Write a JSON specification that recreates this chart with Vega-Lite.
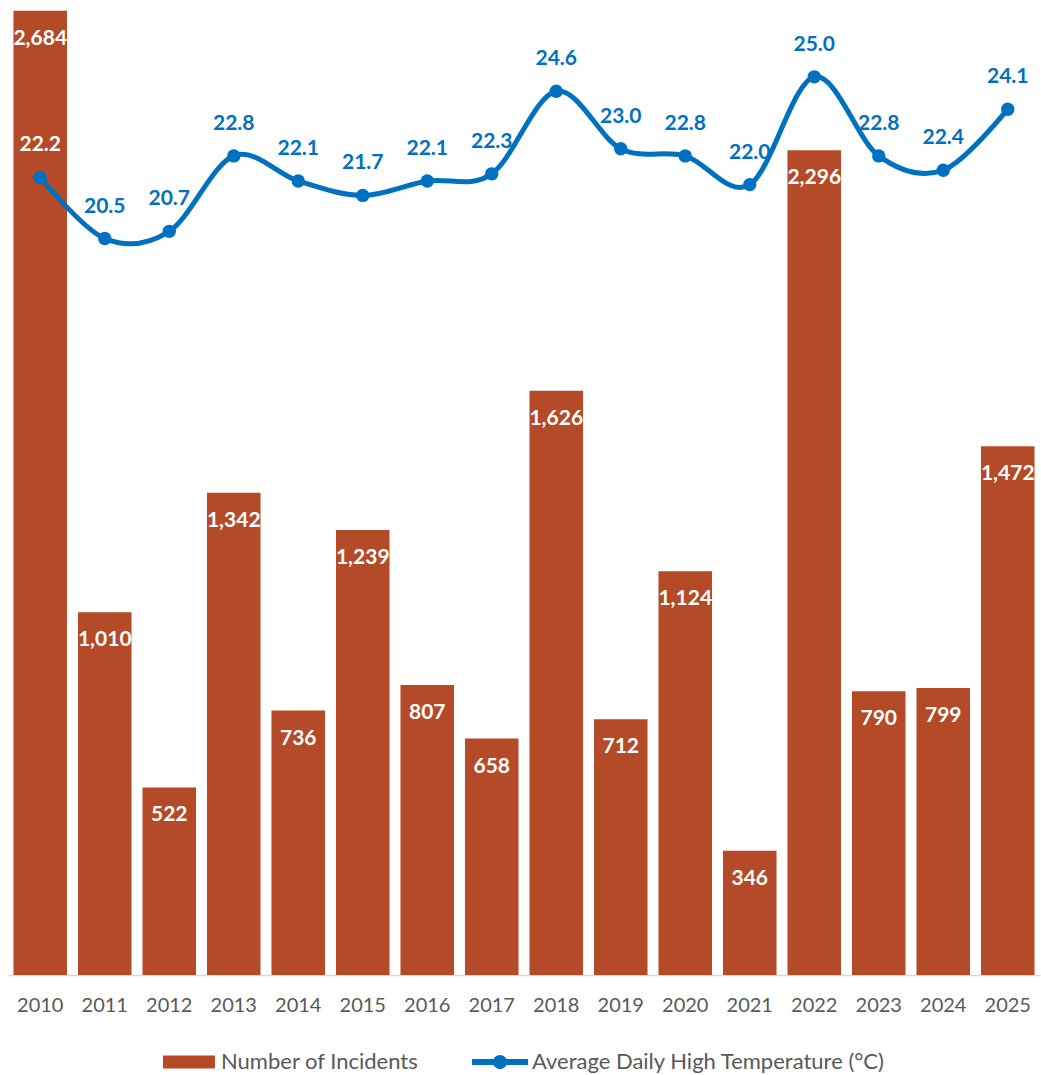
{
  "$schema": "https://vega.github.io/schema/vega-lite/v6.json",
  "width": 1032,
  "height": 970,
  "autosize": {"type": "none"},
  "padding": {"left": 8, "top": 5, "right": 1, "bottom": 100},
  "background": "white",
  "config": {
    "view": {"stroke": null},
    "font": "Lato",
    "legend": {"layout": {"bottom": {"anchor": "middle"}}}
  },
  "data": {
    "values": [
      {"year": "2010", "incidents": 2684, "temp": 22.2},
      {"year": "2011", "incidents": 1010, "temp": 20.5},
      {"year": "2012", "incidents": 522, "temp": 20.7},
      {"year": "2013", "incidents": 1342, "temp": 22.8},
      {"year": "2014", "incidents": 736, "temp": 22.1},
      {"year": "2015", "incidents": 1239, "temp": 21.7},
      {"year": "2016", "incidents": 807, "temp": 22.1},
      {"year": "2017", "incidents": 658, "temp": 22.3},
      {"year": "2018", "incidents": 1626, "temp": 24.6},
      {"year": "2019", "incidents": 712, "temp": 23.0},
      {"year": "2020", "incidents": 1124, "temp": 22.8},
      {"year": "2021", "incidents": 346, "temp": 22.0},
      {"year": "2022", "incidents": 2296, "temp": 25.0},
      {"year": "2023", "incidents": 790, "temp": 22.8},
      {"year": "2024", "incidents": 799, "temp": 22.4},
      {"year": "2025", "incidents": 1472, "temp": 24.1}
    ]
  },
  "encoding": {
    "x": {
      "field": "year",
      "type": "ordinal",
      "scale": {"paddingInner": 0.17, "paddingOuter": 0.085},
      "axis": {
        "title": null,
        "labelAngle": 0,
        "ticks": false,
        "labelPadding": 20,
        "labelFontSize": 20,
        "labelColor": "#595959",
        "domainColor": "#D9D9D9",
        "domainWidth": 1.5,
        "grid": false
      }
    }
  },
  "layer": [
    {
      "mark": {"type": "bar"},
      "encoding": {
        "y": {"field": "incidents", "type": "quantitative", "scale": {"domain": [0, 2700]}, "axis": null},
        "color": {
          "datum": "Number of Incidents",
          "type": "nominal",
          "scale": {
            "domain": ["Number of Incidents", "Average Daily High Temperature (°C)"],
            "range": ["#B44A27", "#0070C0"]
          },
          "legend": {
            "orient": "bottom",
            "direction": "horizontal",
            "title": null,
            "labelFont": "Lato",
            "labelFontSize": 22,
            "labelColor": "#595959",
            "labelLimit": 0,
            "symbolSize": 2704,
            "symbolStrokeWidth": 0,
            "symbolOpacity": 1,
            "columnPadding": 52,
            "labelOffset": 6,
            "offset": 21,
            "encode": {
              "symbols": {
                "update": {
                  "shape": {"signal": "datum.value === 'Number of Incidents' ? 'M-1,-0.25H1V0.25H-1Z' : 'M-1.08,-0.115H1.08V0.115H-1.08Z M-0.27,0A0.27,0.27 0 1,1 0.27,0A0.27,0.27 0 1,1 -0.27,0Z'"}
                }
              }
            }
          }
        }
      }
    },
    {
      "mark": {"type": "text", "align": "center", "baseline": "middle", "dy": 28, "color": "white", "fontWeight": "bold", "fontSize": 21},
      "encoding": {
        "y": {"field": "incidents", "type": "quantitative", "scale": {"domain": [0, 2700]}, "axis": null},
        "text": {"field": "incidents", "type": "quantitative", "format": ","}
      }
    },
    {
      "mark": {"type": "line", "interpolate": "cardinal", "color": "#0070C0", "strokeWidth": 5},
      "encoding": {
        "y": {"field": "temp", "type": "quantitative", "scale": {"domain": [0, 27]}, "axis": null}
      }
    },
    {
      "mark": {"type": "point", "filled": true, "size": 180, "color": "#0070C0", "opacity": 1},
      "encoding": {
        "y": {"field": "temp", "type": "quantitative", "scale": {"domain": [0, 27]}, "axis": null}
      }
    },
    {
      "mark": {"type": "text", "align": "center", "baseline": "middle", "dy": -32, "fontWeight": "bold", "fontSize": 21},
      "encoding": {
        "y": {"field": "temp", "type": "quantitative", "scale": {"domain": [0, 27]}, "axis": null},
        "text": {"field": "temp", "type": "quantitative", "format": ".1f"},
        "color": {"condition": {"test": "datum.year === '2010'", "value": "white"}, "value": "#0070C0"}
      }
    }
  ],
  "resolve": {"scale": {"y": "independent"}}
}
